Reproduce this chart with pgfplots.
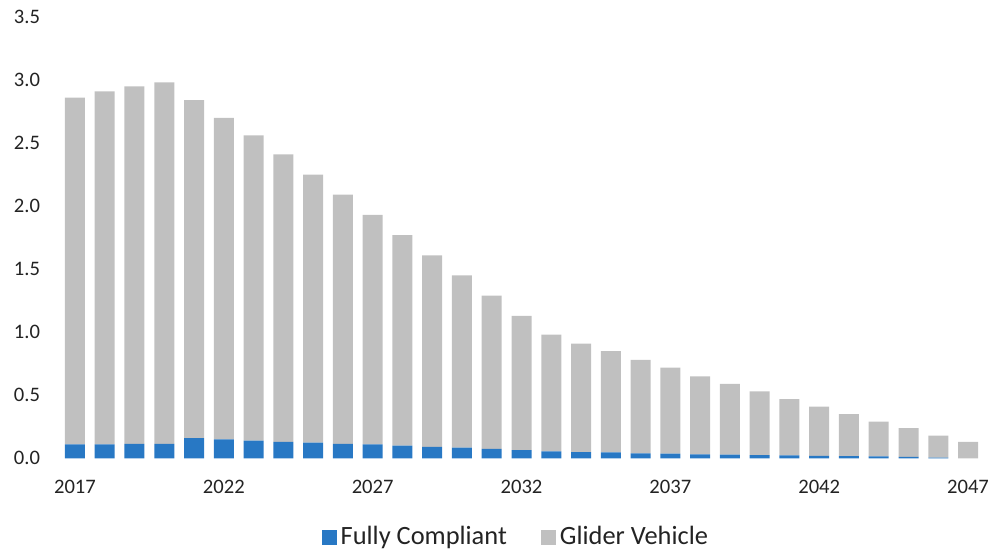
\documentclass[border=0pt]{standalone}
\usepackage{pgfplots}
\usepackage{pgfplotstable}
\usepackage{fontspec}
\setmainfont{Carlito}
\pgfplotsset{compat=1.18}
\definecolor{fcblue}{RGB}{40,120,196}
\definecolor{gvgray}{RGB}{192,192,192}
\definecolor{txt}{RGB}{35,35,35}

% year, fully compliant, glider vehicle (millions)
\pgfplotstableread{
year fc    gv
2017 0.110 2.750
2018 0.110 2.800
2019 0.115 2.835
2020 0.115 2.865
2021 0.160 2.680
2022 0.150 2.550
2023 0.140 2.420
2024 0.130 2.280
2025 0.125 2.125
2026 0.115 1.975
2027 0.110 1.820
2028 0.100 1.670
2029 0.090 1.520
2030 0.085 1.365
2031 0.075 1.215
2032 0.065 1.065
2033 0.055 0.925
2034 0.050 0.860
2035 0.048 0.802
2036 0.040 0.740
2037 0.037 0.683
2038 0.032 0.618
2039 0.030 0.560
2040 0.026 0.504
2041 0.024 0.446
2042 0.020 0.390
2043 0.018 0.332
2044 0.015 0.275
2045 0.012 0.228
2046 0.006 0.174
2047 0.000 0.130
}\datatable

\begin{document}
\begin{tikzpicture}
\useasboundingbox (-28.55pt,-47.85pt) rectangle (469.95pt,229.15pt);
\begin{axis}[
    at={(0,0)}, anchor=south west,
    scale only axis,
    width=464.4pt, height=220.7pt,
    ybar stacked,
    bar width=10pt,
    xmin=2016.4, xmax=2047.6,
    ymin=0, ymax=3.5,
    axis line style={draw=none},
    tick style={draw=none},
    xtick={2017,2022,...,2047},
    ytick={0,0.5,...,3.5},
    major tick length=0pt,
    /pgf/number format/assume math mode=true,
    /pgf/number format/1000 sep={},
    yticklabel style={/pgf/number format/fixed, /pgf/number format/fixed zerofill,
        /pgf/number format/precision=1, font=\fontsize{10.3}{12}\selectfont, text=txt,
        anchor=east, xshift=-5pt},
    xticklabel style={font=\fontsize{10.3}{12}\selectfont, text=txt, anchor=north, yshift=-7.5pt},
    legend style={at={(0.495,-0.179)}, anchor=center, draw=none, fill=none,
        font=\fontsize{13.2}{15}\selectfont, text=txt,
        legend columns=2, /tikz/every even column/.append style={column sep=15pt}},
    legend image code/.code={\fill[#1] (0pt,-3.75pt) rectangle (7.5pt,3.75pt);},
]
\addplot[fill=fcblue, draw=none] table[x=year, y=fc] {\datatable};
\addplot[fill=gvgray, draw=none] table[x=year, y=gv] {\datatable};
\legend{Fully Compliant, Glider Vehicle}
\end{axis}
\end{tikzpicture}
\end{document}
